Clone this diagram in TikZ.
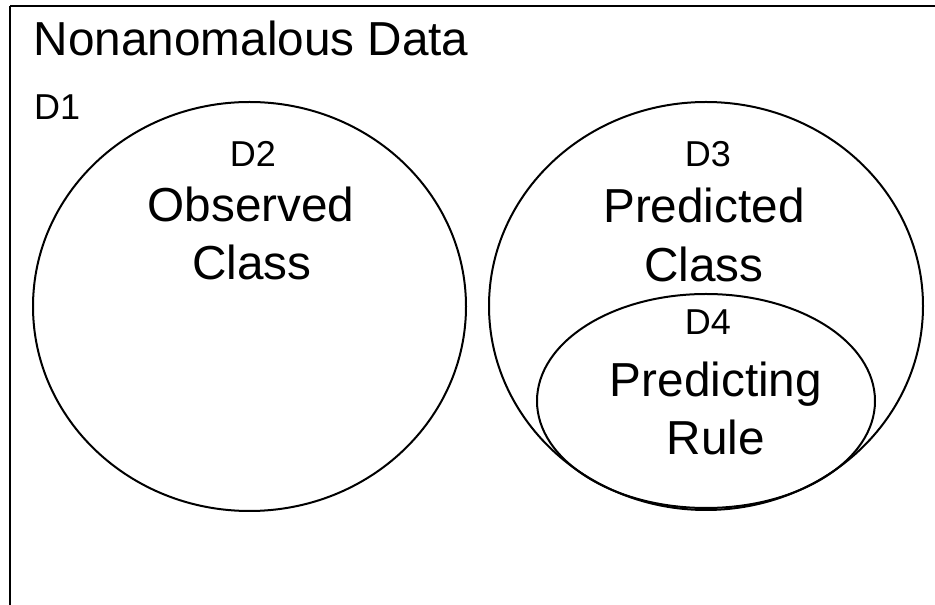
\documentclass[tikz,border=0pt]{standalone}
\usepackage{fontspec}
\setmainfont{Liberation Sans}
\begin{document}
\begin{tikzpicture}[x=1pt,y=1pt,
  big/.style={font=\fontsize{47.7}{56}\selectfont, inner sep=0pt, anchor=base},
  small/.style={font=\fontsize{36}{42}\selectfont, inner sep=0pt, anchor=base},
  set/.style={draw=black, line width=2pt}]
\useasboundingbox (0,0) rectangle (935,605);
\clip (0,0) rectangle (935,605);
% frame of D1 (continues past the right and bottom edges)
\coordinate (fb) at (10,-10);
\coordinate (fc) at (10,599);
\coordinate (fr) at (950,599);
\draw[line width=1.5pt] (fb) -- (fc);
\draw[line width=2.5pt] (fc) -- (fr);
% sets
\draw[set] (249.5,298.5) ellipse [x radius=216.5, y radius=204.5];
\draw[set] (706,299) ellipse [x radius=217, y radius=204];
\draw[set] (706,204) ellipse [x radius=169, y radius=107];
% labels
\node[big, anchor=base west] (title) at (33.5,549.5) {Nonanomalous Data};
\node[small, anchor=base west] (d1) at (34,485) {D1};
\node[small] (d2) at (253,438) {D2};
\node[big] (obs) at (251,383) {Observed};
\node[big] (cls1) at (252,325) {Class};
\node[small] (d3) at (708,438) {D3};
\node[big] (pred) at (704,382) {Predicted};
\node[big] (cls2) at (704,323) {Class};
\node[small] (d4) at (708,270) {D4};
\node[big] (prng) at (716,208) {Predicting};
\node[big] (rule) at (716,150) {Rule};
\end{tikzpicture}
\end{document}
